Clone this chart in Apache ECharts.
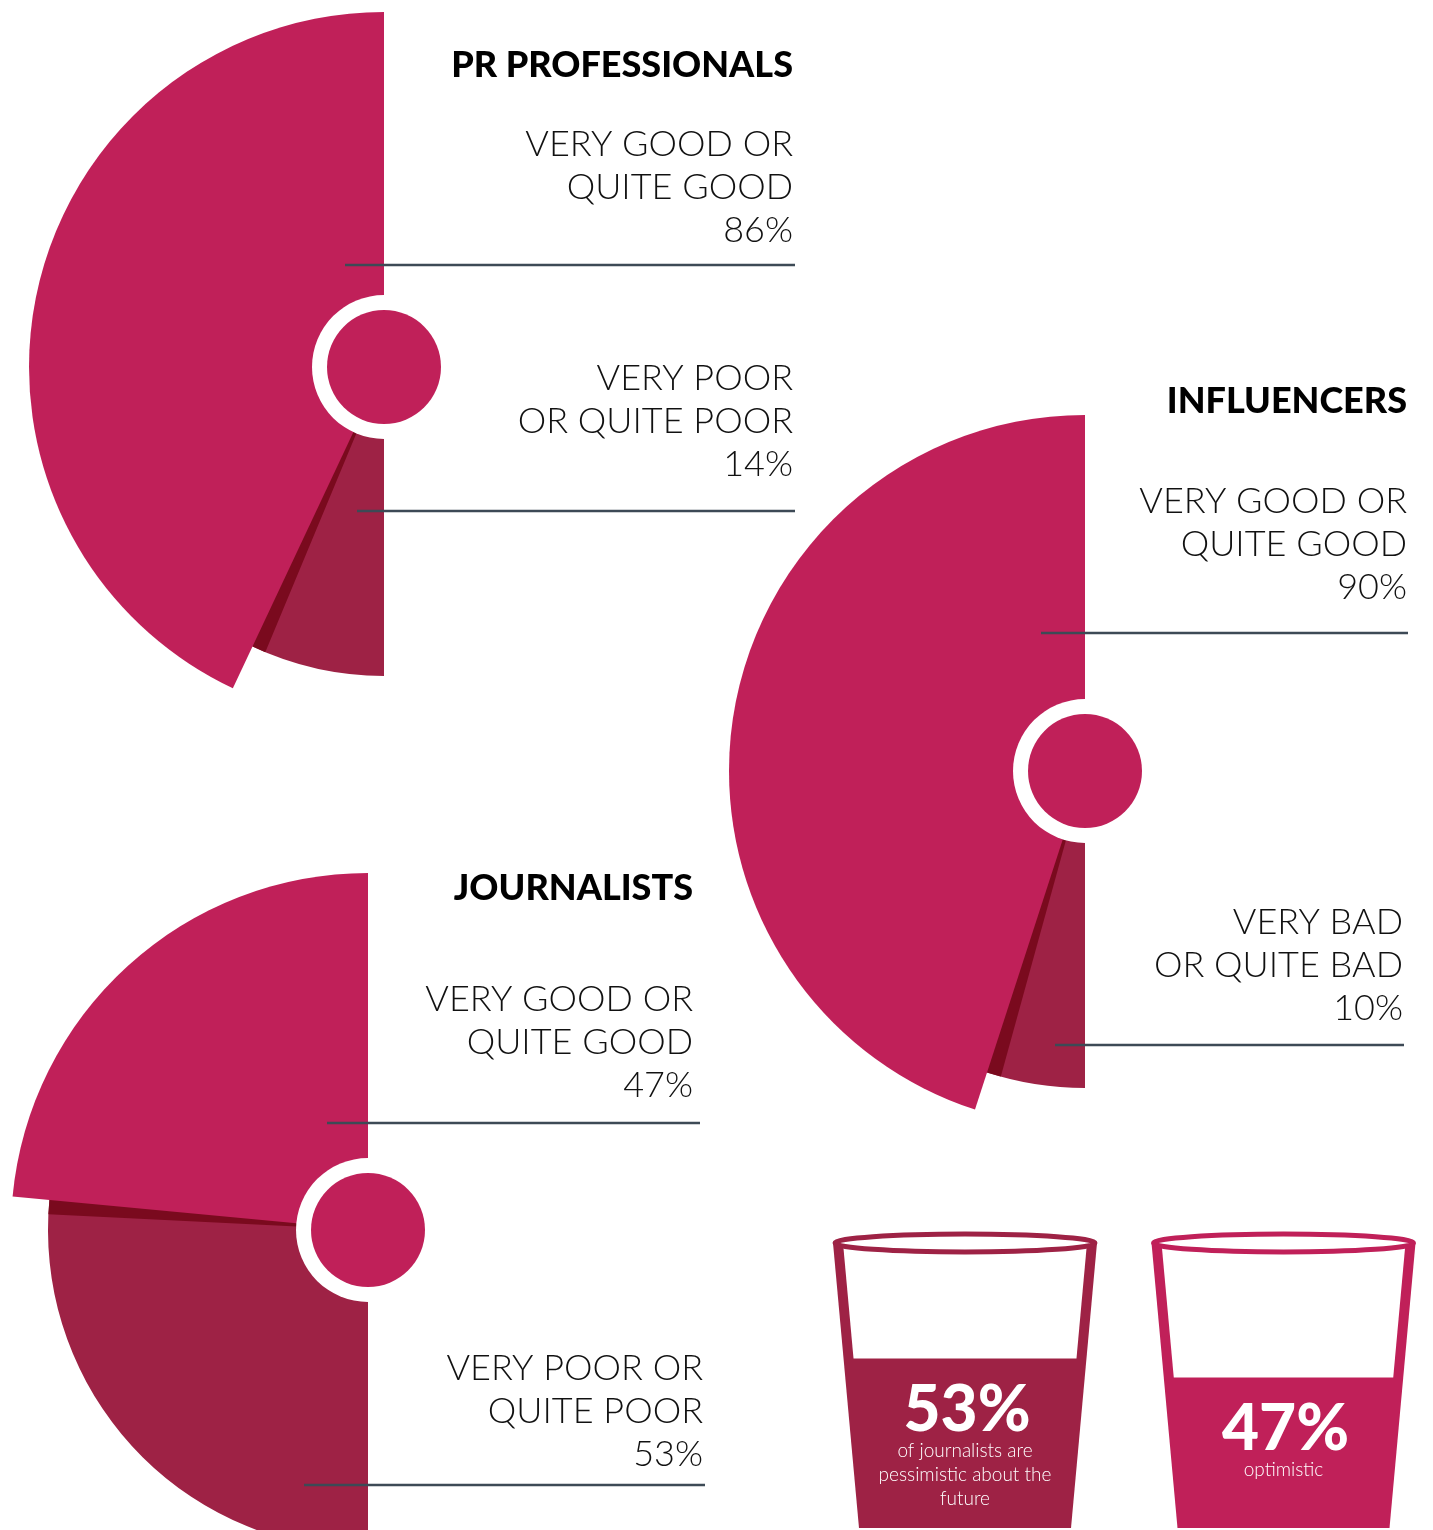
<!DOCTYPE html>
<html>
<head>
<meta charset="utf-8">
<script src="https://cdn.jsdelivr.net/npm/echarts@6/dist/echarts.min.js"></script>
<style>
  html, body { margin: 0; padding: 0; background: #fff; }
  #chart { width: 1433px; height: 1530px; }
</style>
</head>
<body>
<div id="chart"></div>
<script>
// ---- data ----
const groups = ['PR PROFESSIONALS', 'INFLUENCERS', 'JOURNALISTS'];
const positiveLabels = ['VERY GOOD OR\nQUITE GOOD', 'VERY GOOD OR\nQUITE GOOD', 'VERY GOOD OR\nQUITE GOOD'];
const negativeLabels = ['VERY POOR\nOR QUITE POOR', 'VERY BAD\nOR QUITE BAD', 'VERY POOR OR\nQUITE POOR'];
const positiveShares = [86, 90, 47];
const negativeShares = [14, 10, 53];

const outlookCategories = ['pessimistic', 'optimistic'];
const outlookShares = [53, 47];
const outlookCaptions = ['of journalists are\npessimistic about the\nfuture', 'optimistic'];

// ---- styling ----
const PINK = '#C02059';
const WINE = '#9E2245';
const SHADE = '#7A0A1E';
const RULE = '#3D4A56';
const INK = '#111111';
const FONT = 'Lato, "Noto Sans", "DejaVu Sans", sans-serif';
const CUP_COLORS = [WINE, PINK];
const HALF = 100;        // invisible right half: 100% of a group fills 180°
const SHADE_DEG = 2.6;   // width of the dark edge along the split

const layout = [
  { center: [384, 367], outer: 355, inner: 309, title: [793, 65],
    pos: { x: 793, y: 230, rule: [345, 795, 265] },
    neg: { x: 793, y: 464, rule: [357, 795, 511] } },
  { center: [1085, 771], outer: 356, inner: 317, title: [1407, 401],
    pos: { x: 1407, y: 587, rule: [1041, 1408, 633] },
    neg: { x: 1403, y: 1008, rule: [1055, 1404, 1045] } },
  { center: [368, 1230], outer: 357, inner: 320, title: [693, 888],
    pos: { x: 693, y: 1085, rule: [327, 700, 1123] },
    neg: { x: 703, y: 1454, rule: [304, 705, 1485] } }
];

const hidden = { color: 'transparent', borderWidth: 0 };
function slices(i, posColor, negColor) {
  return [
    { name: positiveLabels[i], value: positiveShares[i],
      itemStyle: posColor ? { color: posColor, borderWidth: 0 } : hidden },
    { name: negativeLabels[i], value: negativeShares[i],
      itemStyle: negColor ? { color: negColor, borderWidth: 0 } : hidden },
    { name: 'rest', value: HALF, itemStyle: hidden }
  ];
}
const pieBase = {
  type: 'pie', silent: true, clockwise: false, animation: false,
  label: { show: false }, labelLine: { show: false },
  emphasis: { disabled: true }, itemStyle: { borderWidth: 0 }
};

const series = [];
const graphics = [];

groups.forEach((g, i) => {
  const L = layout[i];
  // negative share
  series.push(Object.assign({}, pieBase, {
    center: L.center, radius: [0, L.inner], startAngle: 90, z: 1,
    data: slices(i, null, WINE)
  }));
  // dark edge: a copy of the positive slice turned a little, so only a sliver
  // shows past the split on top of the negative slice
  series.push(Object.assign({}, pieBase, {
    center: L.center, radius: [0, L.inner], startAngle: 90 + SHADE_DEG, z: 2,
    data: slices(i, SHADE, null)
  }));
  // positive share on top
  series.push(Object.assign({}, pieBase, {
    center: L.center, radius: [0, L.outer], startAngle: 90, z: 3,
    data: slices(i, PINK, null)
  }));
  // hub: white ring with a pink disc
  series.push(Object.assign({}, pieBase, {
    center: L.center, radius: [0, 72], z: 4,
    data: [{ value: 1, itemStyle: { color: '#fff', borderWidth: 0 } }]
  }));
  series.push(Object.assign({}, pieBase, {
    center: L.center, radius: [0, 57], z: 5,
    data: [{ value: 1, itemStyle: { color: PINK, borderWidth: 0 } }]
  }));

  // title
  graphics.push({
    type: 'text', z: 10, x: L.title[0], y: L.title[1],
    style: { text: g, fill: '#000', font: `900 36px ${FONT}`,
             align: 'right', verticalAlign: 'middle', textAlign: 'right', textVerticalAlign: 'middle' }
  });
  // labels and rules
  [[L.pos, positiveLabels[i], positiveShares[i]], [L.neg, negativeLabels[i], negativeShares[i]]]
    .forEach(([p, label, v]) => {
      const lines = label.split('\n').concat([v + '%']);
      lines.forEach((t, k) => {
        graphics.push({
          type: 'text', z: 10, x: p.x, y: p.y - (lines.length - 1 - k) * 43,
          style: { text: t, fill: INK, font: `300 36px ${FONT}`,
                   align: 'right', verticalAlign: 'middle', textAlign: 'right', textVerticalAlign: 'middle' }
        });
      });
      graphics.push({
        type: 'line', z: 10,
        shape: { x1: p.rule[0], y1: p.rule[2], x2: p.rule[1], y2: p.rule[2] },
        style: { stroke: RULE, lineWidth: 2.5 }
      });
    });
});

// ---- cups ----
series.push({
  type: 'custom', coordinateSystem: 'cartesian2d', silent: true, animation: false, z: 6,
  data: outlookShares.map((v, i) => [i, v]),
  renderItem(params, api) {
    const i = params.dataIndex;
    const color = CUP_COLORS[i];
    const [cx, yBottom] = api.coord([api.value(0), 0]);
    const yLevel = api.coord([api.value(0), api.value(1)])[1];
    const rimY = yBottom - 285;
    const halfTop = 132, halfBottom = 106, wall = 10;
    const half = y => halfBottom + (halfTop - halfBottom) * (yBottom - y) / (yBottom - rimY);
    return {
      type: 'group',
      children: [
        { type: 'polygon',
          shape: { points: [[cx - halfTop, rimY], [cx + halfTop, rimY],
                            [cx + halfBottom, yBottom], [cx - halfBottom, yBottom]] },
          style: { fill: color } },
        { type: 'polygon',
          shape: { points: [[cx - half(rimY) + wall, rimY], [cx + half(rimY) - wall, rimY],
                            [cx + half(yLevel) - wall, yLevel], [cx - half(yLevel) + wall, yLevel]] },
          style: { fill: '#fff' } },
        { type: 'ellipse',
          shape: { cx: cx, cy: rimY, rx: halfTop - 2, ry: 9 },
          style: { fill: '#fff', stroke: color, lineWidth: 5 } },
        { type: 'text',
          style: { text: api.value(1) + '%', x: cx + 2, y: yLevel + 52, fill: '#fff',
                   font: `900 64px ${FONT}`, align: 'center', verticalAlign: 'middle',
                   textAlign: 'center', textVerticalAlign: 'middle' } },
        { type: 'text',
          style: { text: outlookCaptions[i], x: cx, y: yLevel + 80, fill: '#fff',
                   font: `300 19px ${FONT}`, lineHeight: 24, align: 'center', verticalAlign: 'top',
                   textAlign: 'center', textVerticalAlign: 'top' } }
      ]
    };
  }
});

const chart = echarts.init(document.getElementById('chart'), null, { renderer: 'canvas' });
chart.setOption({
  backgroundColor: '#fff',
  animation: false,
  grid: { left: 965, top: 1208, width: 318.5, height: 320, containLabel: false },
  xAxis: { type: 'category', data: outlookCategories, boundaryGap: false, show: false },
  yAxis: { type: 'value', min: 0, max: 100, show: false },
  series: series,
  graphic: { elements: graphics }
});
</script>
</body>
</html>
